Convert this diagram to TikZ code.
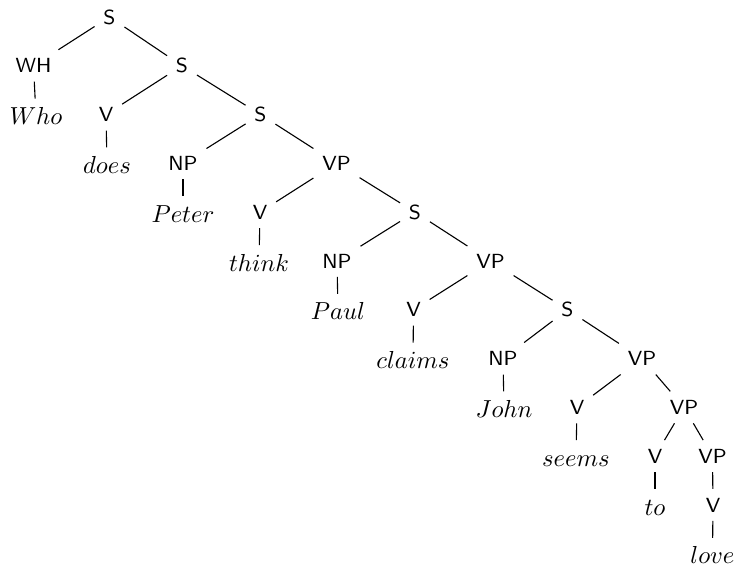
\documentclass[tikz,border=0pt]{standalone}
\begin{document}
\begin{tikzpicture}[x=0.4065pt,y=-0.4065pt,
  cat/.style={inner sep=3.4pt,anchor=base,font=\fontsize{8.3}{10}\selectfont\sffamily,text height=5.76pt,text depth=0pt},
  wrd/.style={inner sep=3.4pt,anchor=base,text height=6.94pt,text depth=0pt},
  every path/.style={line width=0.45pt}]
\useasboundingbox (0,0) rectangle (739,574);
% level 0
\node[cat] (s0) at (109.5,24) {S};
% level 1
\node[cat] (wh) at (33.5,72.8) {WH};
\node[cat] (s1) at (182,72.8) {S};
% level 2
\node[wrd] (who) at (36,124.6) {$Who$};
\node[cat] (v1) at (106,121.6) {V};
\node[cat] (s2) at (260.5,121.6) {S};
% level 3
\node[wrd] (does) at (107,173.4) {$does$};
\node[cat] (np1) at (183,170.4) {NP};
\node[cat] (vp1) at (336.5,170.4) {VP};
% level 4
\node[wrd] (peter) at (183,222.2) {$Peter$};
\node[cat] (v2) at (260,219.2) {V};
\node[cat] (s3) at (415,219.2) {S};
% level 5
\node[wrd] (think) at (259,271) {$think$};
\node[cat] (np2) at (337,268) {NP};
\node[cat] (vp2) at (490.5,268) {VP};
% level 6
\node[wrd] (paul) at (338,319.8) {$Paul$};
\node[cat] (v3) at (413.5,316.8) {V};
\node[cat] (s4) at (567.5,316.8) {S};
% level 7
\node[wrd] (claims) at (413,368.6) {$claims$};
\node[cat] (np3) at (503,365.6) {NP};
\node[cat] (vp3) at (642,365.6) {VP};
% level 8
\node[wrd] (john) at (504,417.4) {$John$};
\node[cat] (v4) at (577,414.4) {V};
\node[cat] (vp4) at (684,414.4) {VP};
% level 9
\node[wrd] (seems) at (576,466.2) {$seems$};
\node[cat] (v5) at (655,463.2) {V};
\node[cat] (vp5) at (712.5,463.2) {VP};
% level 10
\node[wrd] (to) at (655,515) {$to$};
\node[cat] (v6) at (713,512) {V};
% level 11
\node[wrd] (love) at (712.5,563.8) {$love$};
% edges
\draw (s0) -- (wh);
\draw (s0) -- (s1);
\draw (wh) -- (who);
\draw (s1) -- (v1);
\draw (s1) -- (s2);
\draw (v1) -- (does);
\draw (s2) -- (np1);
\draw (s2) -- (vp1);
\draw (np1) -- (peter);
\draw (vp1) -- (v2);
\draw (vp1) -- (s3);
\draw (v2) -- (think);
\draw (s3) -- (np2);
\draw (s3) -- (vp2);
\draw (np2) -- (paul);
\draw (vp2) -- (v3);
\draw (vp2) -- (s4);
\draw (v3) -- (claims);
\draw (s4) -- (np3);
\draw (s4) -- (vp3);
\draw (np3) -- (john);
\draw (vp3) -- (v4);
\draw (vp3) -- (vp4);
\draw (v4) -- (seems);
\draw (vp4) -- (v5);
\draw (vp4) -- (vp5);
\draw (v5) -- (to);
\draw (vp5) -- (v6);
\draw (v6) -- (love);
\end{tikzpicture}
\end{document}
